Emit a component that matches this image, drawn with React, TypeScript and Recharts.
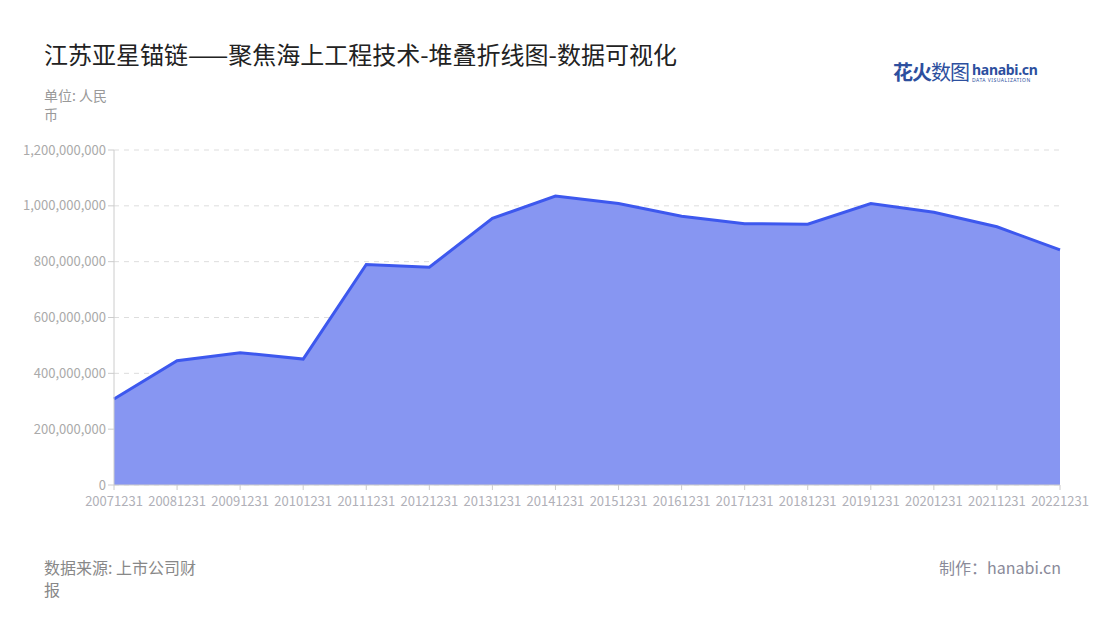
import React from 'react';
import { AreaChart, Area, XAxis, YAxis, CartesianGrid } from 'recharts';

const categories = ['20071231','20081231','20091231','20101231','20111231','20121231','20131231','20141231','20151231','20161231','20171231','20181231','20191231','20201231','20211231','20221231'];
const values = [308000000, 445000000, 474000000, 451000000, 790000000, 780000000, 955000000, 1035000000, 1008000000, 963000000, 936000000, 934000000, 1008000000, 977000000, 925000000, 842000000];
const yTicks = [0, 200000000, 400000000, 600000000, 800000000, 1000000000, 1200000000];

const data = categories.map((c, i) => ({ date: c, value: values[i] }));

const FONT = '"Noto Sans CJK SC", "Noto Sans", sans-serif';

export default function App() {
  return (
    <div style={{ position: 'absolute', left: 0, top: 0, width: 1100, height: 620, background: '#fff', fontFamily: FONT, overflow: 'hidden' }}>
      <div style={{ position: 'absolute', left: 44, top: 37, fontSize: 24, color: '#222', lineHeight: '34px', whiteSpace: 'nowrap' }}>
        江苏亚星锚链——聚焦海上工程技术-堆叠折线图-数据可视化
      </div>
      <div style={{ position: 'absolute', left: 44, top: 86, fontSize: 14, color: '#999', lineHeight: '19px' }}>
        <div>单位: 人民</div>
        <div>币</div>
      </div>
      <div style={{ position: 'absolute', left: 893, top: 60, display: 'flex', alignItems: 'flex-start', whiteSpace: 'nowrap' }}>
        <span style={{ fontSize: 20, lineHeight: '24px', fontWeight: 700, color: '#2d4f9e', letterSpacing: -1 }}>花火</span>
        <span style={{ fontSize: 20, lineHeight: '24px', fontWeight: 400, color: '#2d4f9e', letterSpacing: -1 }}>数图</span>
        <div style={{ marginLeft: 3, marginTop: 2, display: 'flex', flexDirection: 'column' }}>
          <span style={{ fontSize: 14, lineHeight: '15px', fontWeight: 700, color: '#2d4f9e', fontFamily: '"Noto Sans", sans-serif', letterSpacing: -0.3 }}>hanabi.cn</span>
          <span style={{ fontSize: 5, lineHeight: '6px', color: '#2d4f9e', letterSpacing: 0.5, fontFamily: '"Noto Sans", sans-serif' }}>DATA VISUALIZATION</span>
        </div>
      </div>
      <div style={{ position: 'absolute', left: 0, top: 0 }}>
        <AreaChart width={1100} height={620} data={data} margin={{ top: 150, right: 40, bottom: 105, left: 0 }}>
          <CartesianGrid vertical={false} stroke="#dddddd" strokeDasharray="5 5" />
          <XAxis
            dataKey="date"
            interval={0}
            height={30}
            tick={{ fill: '#b0b0b8', fontSize: 13, fontFamily: FONT }}
            tickLine={{ stroke: '#cccccc' }}
            axisLine={{ stroke: '#cccccc' }}
            tickSize={5}
            tickMargin={7}
          />
          <YAxis
            width={114}
            ticks={yTicks}
            domain={[0, 1200000000]}
            tickFormatter={(v: number) => v.toLocaleString('en-US')}
            tick={{ fill: '#aaaaaa', fontSize: 13, fontFamily: FONT }}
            tickLine={{ stroke: '#cccccc' }}
            axisLine={{ stroke: '#cccccc' }}
            tickSize={6}
            tickMargin={2}
          />
          <Area
            type="linear"
            dataKey="value"
            stroke="#3d58ee"
            strokeWidth={3}
            fill="#8796f2"
            fillOpacity={1}
            dot={false}
            activeDot={false}
            isAnimationActive={false}
          />
        </AreaChart>
      </div>
      <div style={{ position: 'absolute', left: 44, top: 556, fontSize: 16, color: '#888', lineHeight: '22px' }}>
        <div>数据来源: 上市公司财</div>
        <div>报</div>
      </div>
      <div style={{ position: 'absolute', right: 39, top: 556, fontSize: 16, color: '#8a8a99', lineHeight: '22px', whiteSpace: 'nowrap' }}>
        制作：hanabi.cn
      </div>
    </div>
  );
}
